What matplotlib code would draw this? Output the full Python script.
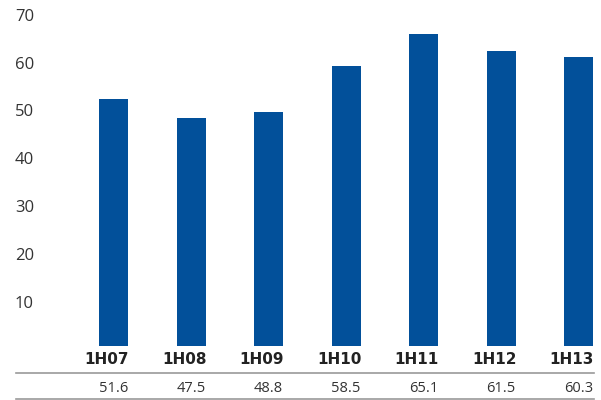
import numpy as np
import matplotlib.pyplot as plt
import matplotlib.transforms as mtransforms

#===| data |=========================================================
periods = ['1H07', '1H08', '1H09', '1H10', '1H11', '1H12', '1H13']
values = [51.6, 47.5, 48.8, 58.5, 65.1, 61.5, 60.3]
yticks = [10, 20, 30, 40, 50, 60, 70]

barColor = '#02509a'
textColor = '#333333'
plt.rcParams['font.family'] = ['Open Sans', 'DejaVu Sans']

#===| plot |=========================================================
W, H = 601, 400
fig = plt.figure(figsize=(W/100., H/100.), dpi=100)
ax = fig.add_axes([0, 0, 1, 1])
ax.axis('off')

# pixel geometry: bar pitch 77.5 px, first centre at 113.5 px, zero at 346 px
pitch = 77.5
ppu = 4.79
ax.set_xlim(-113.5/pitch, (W - 113.5)/pitch)
ax.set_ylim(-(H - 346)/ppu, 346/ppu)

x = np.arange(len(periods))
barW = 29/pitch
ax.bar(x, values, width=barW, color=barColor, zorder=2)

# y tick labels at the left edge
trans = mtransforms.blended_transform_factory(fig.transFigure, ax.transData)
offs = mtransforms.ScaledTranslation(0, -6/100., fig.dpi_scale_trans)
for t in yticks:
    ax.text(15/W, t, str(t), transform=trans + offs, ha='left', va='center',
            fontsize=12, color=textColor)

# category labels and data table
pix = mtransforms.blended_transform_factory(ax.transData, fig.transFigure)
for xi, p, v in zip(x, periods, values):
    ax.text(xi + barW/2 + 1/pitch, 1 - 359/H, p, transform=pix, ha='right',
            va='center', fontsize=11, fontweight='bold', color='#222222',
            family='DejaVu Sans')
    ax.text(xi + barW/2, 1 - 388/H, '%.1f' % v, transform=pix, ha='right',
            va='center', fontsize=10.5, color=textColor)

for yl in [373, 399]:
    fig.add_artist(plt.Line2D([16/W, 594/W], [1 - yl/H, 1 - yl/H],
                              color='#9a9a9a', lw=1.2))

fig.savefig('out.png', dpi=100)
